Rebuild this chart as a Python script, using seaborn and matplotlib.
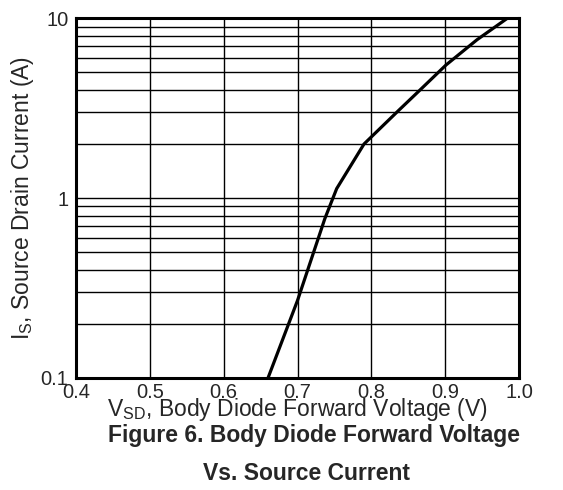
import numpy as np
import pandas as pd
import matplotlib
matplotlib.use("Agg")
import matplotlib.pyplot as plt
import seaborn as sns
from matplotlib.ticker import LogLocator, MultipleLocator, FixedLocator

# values
v_sd = [0.660, 0.700, 0.737, 0.753, 0.790, 0.836, 0.866, 0.901, 0.943, 0.984]
i_s = [0.10, 0.27, 0.77, 1.13, 2.00, 3.05, 4.00, 5.50, 7.60, 10.0]
x_ticks = [0.4, 0.5, 0.6, 0.7, 0.8, 0.9, 1.0]
x_labels = ["0.4", "0.5", "0.6", "0.7", "0.8", "0.9", "1.0"]
y_ticks = [0.1, 1, 10]
y_labels = ["0.1", "1", "10"]

df = pd.DataFrame({"vsd": v_sd, "is": i_s})

sns.set_style("white")
plt.rcParams["font.family"] = ["Liberation Sans", "DejaVu Sans"]
plt.rcParams["mathtext.fontset"] = "custom"
plt.rcParams["mathtext.rm"] = "Liberation Sans"

fig = plt.figure(figsize=(5.63, 4.90), dpi=100)
ax = fig.add_axes([0.135, 0.2286, 0.787, 0.734])

sns.lineplot(data=df, x="vsd", y="is", ax=ax, color="black", linewidth=2.3, zorder=5)

ax.set_yscale("log")
ax.set_xlim(0.4, 1.0)
ax.set_ylim(0.1, 10)

ax.xaxis.set_major_locator(FixedLocator(x_ticks))
ax.set_xticklabels(x_labels)
ax.xaxis.set_minor_locator(MultipleLocator(0.05))
ax.yaxis.set_major_locator(FixedLocator(y_ticks))
ax.set_yticklabels(y_labels)
ax.yaxis.set_minor_locator(LogLocator(base=10, subs=np.arange(2, 10)))
ax.yaxis.set_minor_formatter(plt.NullFormatter())

ax.grid(True, which="major", color="black", linewidth=1.0)
ax.grid(True, which="minor", axis="y", color="black", linewidth=1.0)
ax.tick_params(which="both", direction="in", labelsize=14.5, color="black")
ax.tick_params(which="major", length=4, width=1)
ax.tick_params(which="minor", length=3, width=1)
ax.tick_params(axis="x", pad=3.5)
ax.tick_params(axis="y", pad=5.5)

for s in ax.spines.values():
    s.set_color("black")
    s.set_linewidth(2.2)

ax.set_xlabel(r"V$_{\mathregular{SD}}$, Body Diode Forward Voltage (V)", fontsize=16.5)
ax.xaxis.set_label_coords(0.5, -0.05)
ax.set_ylabel(r"I$_{\mathregular{S}}$, Source Drain Current (A)", fontsize=16.5)
ax.yaxis.set_label_coords(-0.09, 0.5)

fig.text(0.557, 0.098, "Figure 6. Body Diode Forward Voltage", ha="center", va="baseline",
         fontsize=16.5, fontweight="bold")
fig.text(0.544, 0.021, "Vs. Source Current", ha="center", va="baseline",
         fontsize=16.5, fontweight="bold")

fig.savefig("out.png", dpi=100)
